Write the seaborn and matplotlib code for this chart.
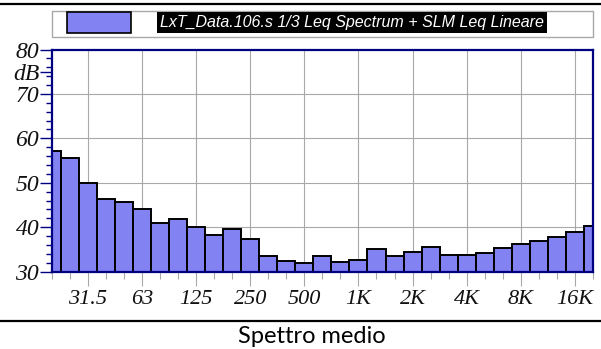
import seaborn as sns
import numpy as np
import pandas as pd
import matplotlib
matplotlib.use("Agg")
import matplotlib.pyplot as plt
from matplotlib.patches import Rectangle
from matplotlib.lines import Line2D
from matplotlib.ticker import MultipleLocator

# --- Data: 1/3 octave bands 20 Hz .. 20 kHz ---
bands = ["20", "25", "31.5", "40", "50", "63", "80", "100", "125", "160",
         "200", "250", "315", "400", "500", "630", "800", "1K", "1.25K", "1.6K",
         "2K", "2.5K", "3.15K", "4K", "5K", "6.3K", "8K", "10K", "12.5K", "16K",
         "20K"]
leq_db = [57.2, 55.5, 50.0, 46.3, 45.7, 44.0, 41.0, 41.9, 40.0, 38.3,
          39.5, 37.3, 33.5, 32.4, 31.9, 33.5, 32.2, 32.7, 35.1, 33.6,
          34.4, 35.6, 33.8, 33.7, 34.1, 35.3, 36.2, 37.0, 37.9, 38.9,
          40.3]
tick_labels = ["31.5", "63", "125", "250", "500", "1K", "2K", "4K", "8K", "16K"]

legend_text = "LxT_Data.106.s 1/3 Leq Spectrum + SLM Leq Lineare"
caption = "Spettro medio"

bar_color = "#8282f2"
navy = "#000080"
grid_color = "#a8a8a8"

df = pd.DataFrame({"band": bands, "leq": leq_db})

sns.set_theme(style="white")

fig = plt.figure(figsize=(6.01, 3.49), dpi=100)
ax = fig.add_axes([51.7 / 601, 1 - 271.7 / 349, (593 - 51.7) / 601, (271.7 - 49.5) / 349])

sns.barplot(data=df, x="band", y="leq", order=bands, color=bar_color,
            width=1.0, edgecolor="black", linewidth=1.4, saturation=1,
            ax=ax, zorder=3)
for p in ax.patches:
    # bars start from the bottom of the axis (30 dB)
    p.set_y(30)
    p.set_height(p.get_height() - 30)

ax.set_xlim(0, len(bands) - 1)
ax.set_ylim(30, 80)

# x ticks: every band (minor), labelled octaves (major)
major_pos = [bands.index(t) for t in tick_labels]
ax.set_xticks(major_pos)
ax.set_xticklabels(tick_labels)
ax.set_xticks(range(len(bands)), minor=True)
ax.tick_params(axis="x", which="major", length=10, width=0.8, color=grid_color,
               direction="out", pad=3, bottom=True)
ax.tick_params(axis="x", which="minor", length=5, width=0.8, color=grid_color,
               direction="out", bottom=True)

# y ticks
ax.set_yticks([30, 40, 50, 60, 70, 75, 80])
ax.set_yticklabels(["30", "40", "50", "60", "70", "dB", "80"])
ax.yaxis.set_minor_locator(MultipleLocator(2))
ax.tick_params(axis="y", which="major", length=9, width=1, color=navy,
               direction="out", pad=0, left=True)
ax.tick_params(axis="y", which="minor", length=4, width=1, color=navy,
               direction="out", left=True)

for lbl in ax.get_xticklabels() + ax.get_yticklabels():
    lbl.set_fontfamily("Liberation Serif")
    lbl.set_fontstyle("italic")
    lbl.set_fontsize(16)
    lbl.set_color("#111111")
for lbl in ax.get_yticklabels():
    lbl.set_fontsize(17)

ax.set_xlabel("")
ax.set_ylabel("")

# grid
ax.grid(True, which="major", color=grid_color, linewidth=0.8, zorder=0)
ax.set_axisbelow(True)
for y, gl in zip(ax.get_yticks(), ax.yaxis.get_gridlines()):
    if y in (30, 75, 80):
        gl.set_visible(False)

for s in ax.spines.values():
    s.set_color(navy)
    s.set_linewidth(1.6)
    s.set_zorder(5)

# legend box
fig.add_artist(Rectangle((51.7 / 601, 1 - 37 / 349), (593 - 51.7) / 601, 26 / 349,
                         transform=fig.transFigure, facecolor="white",
                         edgecolor=grid_color, linewidth=1))
fig.add_artist(Rectangle((67.3 / 601, 1 - 33 / 349), 63.7 / 601, 20.7 / 349,
                         transform=fig.transFigure, facecolor=bar_color,
                         edgecolor="black", linewidth=1.2))
fig.text(160 / 601, 1 - 22.5 / 349, legend_text, color="white",
         fontfamily="Liberation Sans", fontstyle="italic", fontsize=11.5,
         va="center", ha="left",
         bbox=dict(facecolor="black", edgecolor="none", pad=2))

# rule lines and caption
fig.add_artist(Line2D([0, 1], [1 - 3.7 / 349] * 2, transform=fig.transFigure,
                      color="black", linewidth=1.6))
fig.add_artist(Line2D([0, 1], [1 - 321 / 349] * 2, transform=fig.transFigure,
                      color="black", linewidth=1.6))
fig.text(312 / 601, 1 - 342.7 / 349, caption, fontfamily="Lato", fontsize=17,
         ha="center", va="baseline", color="black")

fig.savefig("out.png", dpi=100)
